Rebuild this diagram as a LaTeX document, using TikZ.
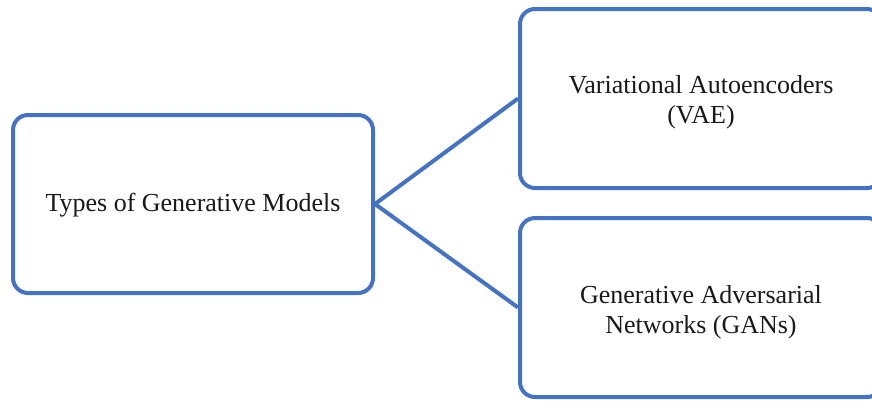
\documentclass[tikz,border=0pt]{standalone}
\usepackage{fontspec}
\setmainfont{Liberation Serif}
\definecolor{boxblue}{HTML}{4472C4}
\tikzset{
  modelbox/.style={draw=boxblue, line width=4pt, rounded corners=15pt, fill=white,
    inner sep=0pt},
  boxtext/.style={align=center, font=\fontsize{26}{30}\selectfont, text=black!90,
    inner sep=0pt},
  link/.style={draw=boxblue, line width=4pt}
}
\begin{document}
\begin{tikzpicture}[x=1pt,y=-1pt]
  \useasboundingbox (0,0) rectangle (872,400);
  \clip (0,0) rectangle (872,400);
  \node[modelbox, minimum width=360pt, minimum height=178pt] (root) at (193,204) {};
  \node[modelbox, minimum width=362pt, minimum height=179pt] (vae) at (701,98.5) {};
  \node[modelbox, minimum width=362pt, minimum height=179pt] (gan) at (701,307.5) {};
  \node[boxtext] (roottext) at ([yshift=-1pt]root.center) {Types of Generative Models};
  \node[boxtext] (vaetext) at ([yshift=-4pt]vae.center) {Variational Autoencoders\\(VAE)};
  \node[boxtext] (gantext) at ([yshift=-5pt]gan.center) {Generative Adversarial\\Networks (GANs)};
  \draw[link] (root.east) -- (vae.west);
  \draw[link] (root.east) -- (gan.west);
\end{tikzpicture}
\end{document}
